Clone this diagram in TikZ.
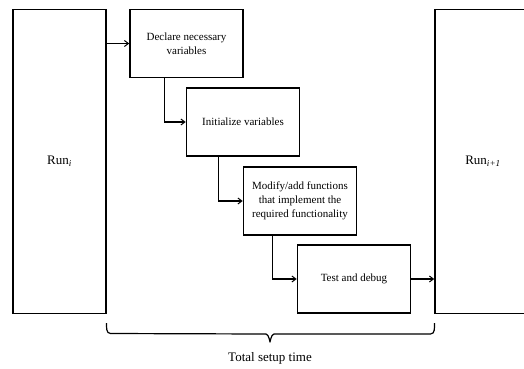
\documentclass[tikz,border=0pt]{standalone}
\usepackage{fontspec}
\setmainfont{Liberation Serif}
\usetikzlibrary{arrows.meta,calc}
\begin{document}
\begin{tikzpicture}[x=1pt,y=-1pt,
  >={Straight Barb[length=4pt,width=6pt,line width=1pt]},
  runbox/.style={draw,line width=1.6pt,minimum width=93pt,minimum height=304pt,inner sep=0pt,font=\fontsize{13}{15}\selectfont},
  stepbox/.style={draw,line width=1.6pt,minimum width=113pt,minimum height=68pt,inner sep=2pt,align=center,font=\fontsize{11}{14}\selectfont},
  conn/.style={->,line width=1.2pt}]
\useasboundingbox (0,0) rectangle (524,368);
\clip (0,0) rectangle (524,368);
\node[runbox] (runi) at (59.5,161.5) {Run\textsubscript{\itshape i}};
\node[runbox,minimum width=96pt] (runn) at (483,161.5) {Run\textsubscript{\itshape i+1}};
\node[stepbox] (s1) at (186.5,43.5) {Declare necessary\\variables};
\node[stepbox] (s2) at (243,122) {Initialize variables};
\node[stepbox] (s3) at (300,201) {Modify/add functions\\that implement the\\required functionality};
\node[stepbox] (s4) at (354,279) {Test and debug};
\draw[conn] (runi.east |- s1.west) -- (s1.west);
\draw[conn] ($(s1.south west)+(35,0)$) |- (s2.west);
\draw[conn] ($(s2.south west)+(33,0)$) |- (s3.west);
\draw[conn] ($(s3.south west)+(30,0)$) |- (s4.west);
\draw[conn] (s4.east) -- (s4.east -| runn.west);
\coordinate (bl) at (106.5,323);
\coordinate (br) at (434.5,323);
\coordinate (bm) at (270,334);
\draw[line width=1.2pt] (bl) to[out=-90,in=180] ++(4,10.5) -- ($(bm)+(-4,0)$) to[out=0,in=-90] ++(4,7) to[out=-90,in=180] ++(4,-7) -- ($(br)+(-4,11)$) to[out=0,in=-90] (br);
\node[font=\fontsize{13}{15}\selectfont] (total) at (270,358) {Total setup time};
\end{tikzpicture}
\end{document}
